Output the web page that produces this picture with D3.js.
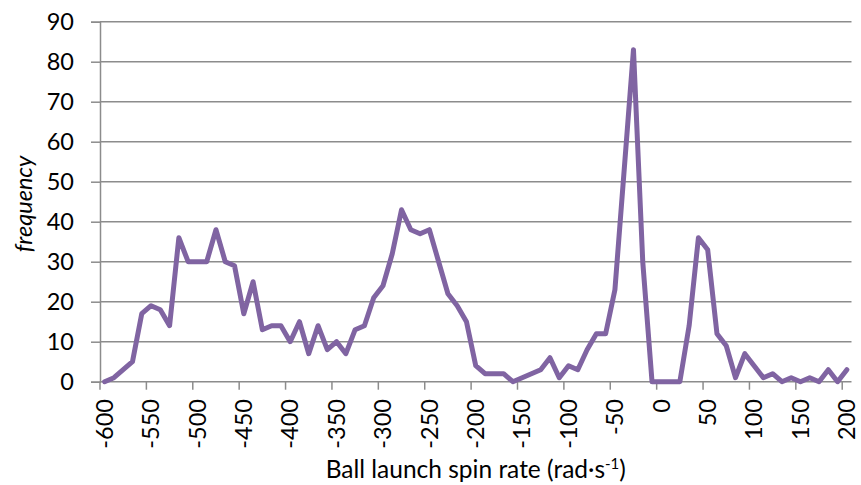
<!DOCTYPE html>
<html>
<head>
<meta charset="utf-8">
<script src="https://cdn.jsdelivr.net/npm/d3@7"></script>
<style>
  html, body { margin: 0; padding: 0; background: #fff; }
  svg { display: block; }
  text { font-family: Lato, "Open Sans", sans-serif; fill: #000; }
</style>
</head>
<body>
<svg id="chart" width="861" height="485"></svg>
<script>
// Spin-rate bins (rad·s⁻¹), one category every 10 units
const spinRates = [
  -600, -590, -580, -570, -560, -550, -540, -530, -520, -510,
  -500, -490, -480, -470, -460, -450, -440, -430, -420, -410,
  -400, -390, -380, -370, -360, -350, -340, -330, -320, -310,
  -300, -290, -280, -270, -260, -250, -240, -230, -220, -210,
  -200, -190, -180, -170, -160, -150, -140, -130, -120, -110,
  -100, -90, -80, -70, -60, -50, -40, -30, -20, -10,
  0, 10, 20, 30, 40, 50, 60, 70, 80, 90,
  100, 110, 120, 130, 140, 150, 160, 170, 180, 190,
  200
];

// Count of launches falling into each bin
const frequency = [
  0, 1, 3, 5, 17, 19, 18, 14, 36, 30,
  30, 30, 38, 30, 29, 17, 25, 13, 14, 14,
  10, 15, 7, 14, 8, 10, 7, 13, 14, 21,
  24, 32, 43, 38, 37, 38, 30, 22, 19, 15,
  4, 2, 2, 2, 0, 1, 2, 3, 6, 1,
  4, 3, 8, 12, 12, 23, 53, 83, 30, 0,
  0, 0, 0, 14, 36, 33, 12, 9, 1, 7,
  4, 1, 2, 0, 1, 0, 1, 0, 3, 0,
  3
];

// Category labels shown along the x axis
const xTickLabels = [-600, -550, -500, -450, -400, -350, -300, -250, -200,
                     -150, -100, -50, 0, 50, 100, 150, 200];
const yTicks = [0, 10, 20, 30, 40, 50, 60, 70, 80, 90];

const plot = { left: 100, right: 851.5, top: 21.7, bottom: 381.7 };
const gridColor = "#8c8c8c";
const lineColor = "#8064a2";
const labelSize = 23.5;

const svg = d3.select("#chart");

const x = d3.scaleBand()
  .domain(spinRates)
  .range([plot.left, plot.right])
  .padding(0);

const y = d3.scaleLinear()
  .domain([0, 90])
  .range([plot.bottom, plot.top]);

// Horizontal gridlines
svg.append("g")
  .selectAll("line")
  .data(yTicks.filter(d => d > 0))
  .join("line")
  .attr("x1", plot.left)
  .attr("x2", plot.right)
  .attr("y1", d => y(d))
  .attr("y2", d => y(d))
  .attr("stroke", gridColor)
  .attr("stroke-width", 1.5);

// Y axis: line, outward ticks, labels
const yAxis = d3.axisLeft(y)
  .tickValues(yTicks)
  .tickSize(9)
  .tickPadding(17)
  .tickFormat(d3.format("d"));

const gy = svg.append("g")
  .attr("transform", `translate(${plot.left},0)`)
  .call(yAxis);
gy.select(".domain").attr("stroke", gridColor).attr("stroke-width", 1.5);
gy.selectAll(".tick line").attr("stroke", gridColor).attr("stroke-width", 1.5);
gy.selectAll(".tick text")
  .attr("font-size", labelSize)
  .attr("font-family", "Lato, 'Open Sans', sans-serif")
  .attr("fill", "#000");

// X axis: ticks sit on category boundaries every 5 bins
const gx = svg.append("g");
gx.append("line")
  .attr("x1", plot.left)
  .attr("x2", plot.right)
  .attr("y1", plot.bottom)
  .attr("y2", plot.bottom)
  .attr("stroke", gridColor)
  .attr("stroke-width", 1.5);

gx.selectAll("line.tick")
  .data(xTickLabels)
  .join("line")
  .attr("class", "tick")
  .attr("x1", d => x(d))
  .attr("x2", d => x(d))
  .attr("y1", plot.bottom)
  .attr("y2", plot.bottom + 8)
  .attr("stroke", gridColor)
  .attr("stroke-width", 1.5);

gx.selectAll("text")
  .data(xTickLabels)
  .join("text")
  .attr("transform", d => `translate(${x(d) + x.bandwidth() / 2},399) rotate(-90)`)
  .attr("text-anchor", "end")
  .attr("dy", "0.35em")
  .attr("font-size", labelSize)
  .text(d => d);

// Data line
const line = d3.line()
  .x((d, i) => x(spinRates[i]) + x.bandwidth() / 2)
  .y(d => y(d));

svg.append("path")
  .datum(frequency)
  .attr("d", line)
  .attr("fill", "none")
  .attr("stroke", lineColor)
  .attr("stroke-width", 5)
  .attr("stroke-linejoin", "round")
  .attr("stroke-linecap", "round");

// Axis titles
svg.append("text")
  .attr("transform", `translate(32,204) rotate(-90)`)
  .attr("text-anchor", "middle")
  .attr("font-size", labelSize)
  .attr("font-style", "italic")
  .text("frequency");

const xTitle = svg.append("text")
  .attr("x", (plot.left + plot.right) / 2)
  .attr("y", 478)
  .attr("text-anchor", "middle")
  .attr("font-size", 24.5);
xTitle.append("tspan").text("Ball launch spin rate (rad·s");
xTitle.append("tspan").attr("font-size", 15).attr("dy", -9).text("-1");
xTitle.append("tspan").attr("dy", 9).text(")");
</script>
</body>
</html>
